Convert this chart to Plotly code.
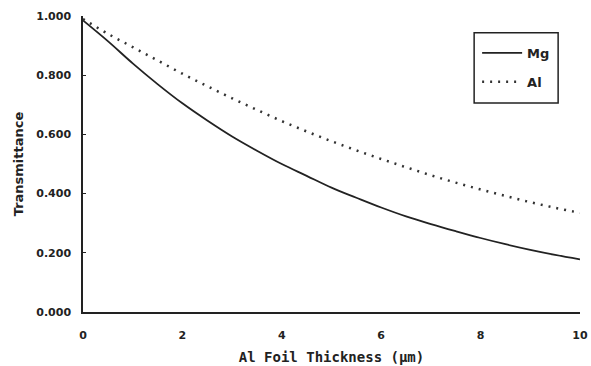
import plotly.graph_objects as go

thickness_um = [0.0, 0.5, 1.0, 1.5, 2.0, 2.5, 3.0, 3.5, 4.0, 4.5, 5.0,
                5.5, 6.0, 6.5, 7.0, 7.5, 8.0, 8.5, 9.0, 9.5, 10.0]
mg_transmittance = [0.985, 0.915, 0.840, 0.770, 0.705, 0.647, 0.593, 0.545, 0.500, 0.460, 0.420,
                    0.386, 0.353, 0.323, 0.297, 0.273, 0.250, 0.229, 0.210, 0.193, 0.178]
al_transmittance = [0.990, 0.940, 0.895, 0.850, 0.805, 0.763, 0.722, 0.683, 0.645, 0.610, 0.577,
                    0.546, 0.517, 0.489, 0.462, 0.437, 0.414, 0.392, 0.371, 0.352, 0.335]
y_ticks = [0.0, 0.2, 0.4, 0.6, 0.8, 1.0]
y_tick_labels = ["0.000", "0.200", "0.400", "0.600", "0.800", "1.000"]
x_ticks = [0, 2, 4, 6, 8, 10]

fig = go.Figure()
fig.add_trace(go.Scatter(x=thickness_um, y=mg_transmittance, mode="lines", name="Mg",
                         legendgroup="mg", line=dict(color="#222222", width=1.8, shape="spline")))
fig.add_trace(go.Scatter(x=thickness_um, y=al_transmittance, mode="lines", name="Al",
                         legendgroup="al", line=dict(color="#333333", width=2.5, dash="2px,6px", shape="spline")))

# legend frame
fig.add_shape(type="rect", xref="paper", yref="paper",
              x0=0.787, x1=0.956, y0=0.706, y1=0.943,
              line=dict(color="#222222", width=1.5), fillcolor="rgba(0,0,0,0)", layer="above")

fig.update_layout(
    width=591, height=366,
    margin=dict(l=83, r=11, t=16, b=54),
    paper_bgcolor="white", plot_bgcolor="white",
    font=dict(family="DejaVu Sans", size=11, color="#222222"),
    legend=dict(x=0.793, y=0.926, xanchor="left", yanchor="top",
                borderwidth=0, bgcolor="rgba(0,0,0,0)",
                traceorder="grouped", tracegroupgap=9, itemwidth=40,
                font=dict(family="DejaVu Sans", size=13, color="#222222", weight="bold")),
    showlegend=True,
)
fig.update_xaxes(range=[0, 10], tickvals=x_ticks, ticktext=[str(v) for v in x_ticks],
                 automargin=False,
                 showgrid=False, zeroline=False, showline=True, linecolor="#222222", linewidth=1.5,
                 ticks="", ticklabelstandoff=12,
                 tickfont=dict(family="DejaVu Sans", size=11, weight="bold"),
                 title=dict(text="Al Foil Thickness (μm)", standoff=11,
                            font=dict(family="DejaVu Sans Mono", size=14, weight="bold")))
fig.update_yaxes(range=[0, 1.0], tickvals=y_ticks, ticktext=y_tick_labels,
                 automargin=False,
                 showgrid=False, zeroline=False, showline=True, linecolor="#222222", linewidth=1.5,
                 ticks="inside", ticklen=3, tickcolor="#222222",
                 ticklabelstandoff=8,
                 tickfont=dict(family="DejaVu Sans", size=11, weight="bold"),
                 title=dict(text="Transmittance", standoff=10,
                            font=dict(family="DejaVu Sans", size=13, weight="bold")))

fig.write_html("out.html", config={"displayModeBar": False},
               post_script="document.body.style.margin='0';document.body.style.overflow='hidden';")
